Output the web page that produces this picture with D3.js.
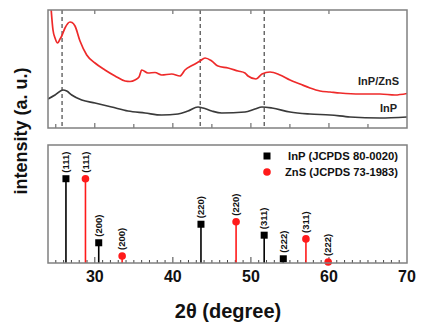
<!DOCTYPE html>
<html><head><meta charset="utf-8">
<script src="https://cdn.jsdelivr.net/npm/d3@7"></script>
<style>
body{margin:0;background:#fff;}
svg{display:block;font-family:"Liberation Sans",Arial,sans-serif;}
</style></head>
<body><svg id="c" width="422" height="323"></svg>
<script>
// ---- data ----
const xTicks = [30, 40, 50, 60, 70];
const inpZnsTheta = [24.35,24.64,24.9,25.24,25.54,25.76,26.18,26.82,27.08,27.46,28.10,28.96,30.02,31.30,32.59,33.87,34.51,35.15,35.66,36.01,36.81,37.71,38.57,39.85,40.91,41.55,42.58,43.48,44.12,44.98,45.78,47.07,48.35,49.24,49.63,50.65,51.42,52.45,53.73,55.01,56.29,57.57,58.85,60.14,61.42,63.98,66.54,68.46,70.0];
const inpZnsValue = [124,98,90,85,89,92,100,106,105.5,102,87,73,65,58,52,47,46.5,48,51,58,55,55.5,53,54,52,58,63,67,70,67,62,60,57,55,52,49,54,56,53,48,44,40,37,36,35,34,34,33,34.5];
const inpTheta = [24.0,24.9,25.92,26.40,27.04,28.32,30.02,32.16,34.25,36.43,38.57,40.66,41.94,43.22,43.86,44.98,46.26,49.24,50.52,51.42,52.70,55.01,57.57,60.14,62.70,66.54,70.0];
const inpValue = [29,33,38,37,33,28,25,21,17,15,13,14,17,21,20,17,15,16,19,21,20,16,14,13,11,10,11];
const dashedTheta = [25.8, 43.5, 51.7];

const inpRefTheta = [26.3, 30.5, 43.6, 51.7, 54.15];
const inpRefValue = [100, 24, 46, 33, 5];
const inpRefHkl = ["(111)", "(200)", "(220)", "(311)", "(222)"];
const znsRefTheta = [28.8, 33.5, 48.1, 57.05, 59.9];
const znsRefValue = [100, 8.3, 49, 28.6, 1.2];
const znsRefHkl = ["(111)", "(200)", "(220)", "(311)", "(222)"];

const legendLabels = ["InP (JCPDS 80-0020)", "ZnS (JCPDS 73-1983)"];
const curveLabels = ["InP/ZnS", "InP"];

// ---- layout ----
const svg = d3.select("#c");
const L = 48, R = 407;
const top1 = 10, bot1 = 128, top2 = 145, bot2 = 263;
const RED = "#ee2a2a", frameCol = "#808080";

const x = d3.scaleLinear().domain([24, 70]).range([L, R]);
const y1 = d3.scaleLinear().domain([0, 118]).range([bot1, top1]);
const y2 = d3.scaleLinear().domain([0, 140]).range([bot2, top2]);

svg.append("defs").append("clipPath").attr("id","cp1")
  .append("rect").attr("x",L).attr("y",top1).attr("width",R-L).attr("height",bot1-top1);

// ---- top panel ----
const g1 = svg.append("g");
const tb1 = d3.range(25, 70, 5);
g1.selectAll("line.tb").data(tb1).join("line")
  .attr("x1", d => x(d)).attr("x2", d => x(d))
  .attr("y1", bot1).attr("y2", d => bot1 - (d % 10 === 0 ? 5 : 4))
  .attr("stroke", "#555").attr("stroke-width", 1);
g1.selectAll("line.tt").data([30,40,50,60]).join("line")
  .attr("x1", d => x(d)).attr("x2", d => x(d))
  .attr("y1", top1).attr("y2", top1 + 4)
  .attr("stroke", "#555").attr("stroke-width", 1);
g1.selectAll("line.dash").data(dashedTheta).join("line")
  .attr("x1", d => x(d)).attr("x2", d => x(d))
  .attr("y1", top1).attr("y2", bot1)
  .attr("stroke", "#222").attr("stroke-width", 1).attr("stroke-dasharray", "4,3");

const line = (tx, vy) => d3.line().x((d,i) => x(tx[i])).y(d => y1(d)).curve(d3.curveMonotoneX)(vy);
g1.append("path").attr("clip-path","url(#cp1)")
  .attr("d", line(inpTheta, inpValue)).attr("fill","none")
  .attr("stroke","#3a3a3a").attr("stroke-width",1.7);
g1.append("path").attr("clip-path","url(#cp1)")
  .attr("d", line(inpZnsTheta, inpZnsValue)).attr("fill","none")
  .attr("stroke",RED).attr("stroke-width",1.7);

g1.append("text").attr("x", 399).attr("y", 85).attr("text-anchor","end")
  .attr("font-size", 11).attr("font-weight","bold").attr("fill","#222").text(curveLabels[0]);
g1.append("text").attr("x", 397).attr("y", 112).attr("text-anchor","end")
  .attr("font-size", 11).attr("font-weight","bold").attr("fill","#222").text(curveLabels[1]);

g1.append("rect").attr("x",L).attr("y",top1).attr("width",R-L).attr("height",bot1-top1)
  .attr("fill","none").attr("stroke",frameCol).attr("stroke-width",1.5);

// ---- bottom panel ----
const g2 = svg.append("g");
const tb2 = d3.range(25, 70, 1);
g2.selectAll("line.tb").data(tb2).join("line")
  .attr("x1", d => x(d)).attr("x2", d => x(d))
  .attr("y1", bot2).attr("y2", d => bot2 - (d % 10 === 0 ? 6 : 3))
  .attr("stroke", "#444").attr("stroke-width", 1);

function sticks(theta, vals, hkl, color, shape) {
  const gg = g2.append("g");
  theta.forEach((t, i) => {
    const xx = x(t), yy = y2(vals[i]);
    gg.append("line").attr("x1", xx).attr("x2", xx).attr("y1", bot2).attr("y2", yy)
      .attr("stroke", color).attr("stroke-width", 1.6);
    if (shape === "square") {
      gg.append("rect").attr("x", xx - 3.5).attr("y", yy - 3.5).attr("width", 7).attr("height", 7).attr("fill", color);
    } else {
      gg.append("circle").attr("cx", xx).attr("cy", yy).attr("r", 3.8).attr("fill", color);
    }
    gg.append("text").attr("transform", `translate(${xx + 3.2},${yy - 6}) rotate(-90)`)
      .attr("font-size", 9.5).attr("font-weight", "bold").attr("fill", "#111").text(hkl[i]);
  });
}
sticks(inpRefTheta, inpRefValue, inpRefHkl, "#000", "square");
sticks(znsRefTheta, znsRefValue, znsRefHkl, "#ff1a1a", "circle");

// legend
g2.append("rect").attr("x", 263.5).attr("y", 152.5).attr("width", 7).attr("height", 7).attr("fill", "#000");
g2.append("circle").attr("cx", 267).attr("cy", 172).attr("r", 3.8).attr("fill", "#ff1a1a");
g2.append("text").attr("x", 288).attr("y", 160).attr("font-size", 11.5).attr("font-weight","bold")
  .attr("textLength", 110).attr("lengthAdjust","spacingAndGlyphs").attr("fill","#111").text(legendLabels[0]);
g2.append("text").attr("x", 285).attr("y", 176).attr("font-size", 11.5).attr("font-weight","bold")
  .attr("textLength", 113).attr("lengthAdjust","spacingAndGlyphs").attr("fill","#111").text(legendLabels[1]);

g2.append("rect").attr("x",L).attr("y",top2).attr("width",R-L).attr("height",bot2-top2)
  .attr("fill","none").attr("stroke",frameCol).attr("stroke-width",1.5);

// x tick labels
svg.append("g").selectAll("text").data(xTicks).join("text")
  .attr("x", d => x(d)).attr("y", 282).attr("text-anchor","middle")
  .attr("font-size", 16).attr("font-weight","bold").attr("fill","#111").text(d => d);

// axis titles
svg.append("text").attr("x", 228).attr("y", 318).attr("text-anchor","middle")
  .attr("font-size", 20).attr("font-weight","bold").attr("fill","#111").text("2θ (degree)");
svg.append("text").attr("transform","translate(27,131) rotate(-90)").attr("text-anchor","middle")
  .attr("font-size", 18).attr("font-weight","bold").attr("fill","#111").text("intensity (a. u.)");
</script></body></html>
